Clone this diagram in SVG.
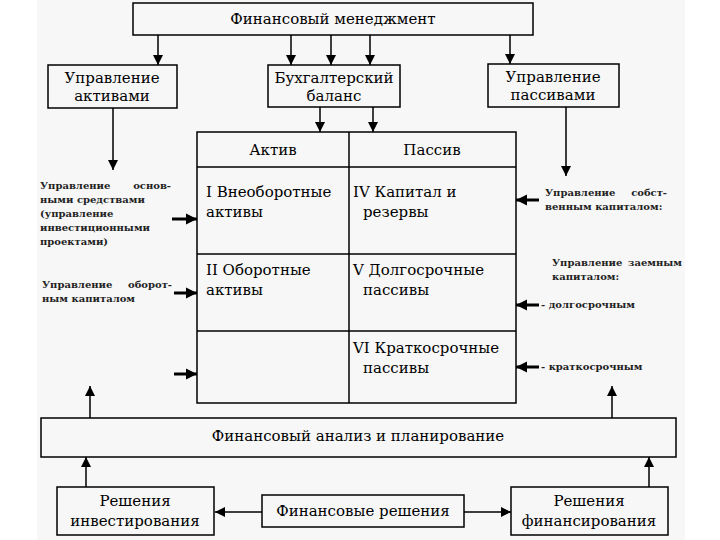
<svg xmlns="http://www.w3.org/2000/svg" width="720" height="540" viewBox="0 0 720 540" font-family="'DejaVu Serif', serif">
<defs>
<marker id="ah" viewBox="0 0 10 10" refX="10" refY="5" markerWidth="10" markerHeight="10" markerUnits="userSpaceOnUse" orient="auto">
<path d="M0,0 L10,5 L0,10 z" fill="#000"/>
</marker>
<marker id="ahb" viewBox="0 0 10 10" refX="10" refY="5" markerWidth="11" markerHeight="12" markerUnits="userSpaceOnUse" orient="auto">
<path d="M0,0 L10,5 L0,10 z" fill="#000"/>
</marker>
</defs>
<style>
.box{fill:#f7f7f7;stroke:#000;stroke-width:1.5}
.t{font-size:15px;fill:#000}
.s{font-size:10px;font-weight:bold;fill:#222}
.c{fill:none;stroke:#000;stroke-width:1.5;marker-end:url(#ah)}
.cb{fill:none;stroke:#000;stroke-width:3;marker-end:url(#ahb)}
.g{stroke:#000;stroke-width:1.5;fill:none}
</style>
<rect x="0" y="0" width="720" height="540" fill="#fff"/>
<rect x="37" y="0" width="648" height="540" fill="#f7f7f7"/>

<g id="connectors">
<line class="c" x1="158" y1="35" x2="158" y2="65"/>
<line class="c" x1="291" y1="35" x2="291" y2="65"/>
<line class="c" x1="331" y1="35" x2="331" y2="65"/>
<line class="c" x1="370" y1="35" x2="370" y2="65"/>
<line class="c" x1="510" y1="35" x2="510" y2="64"/>
<line class="c" x1="320" y1="107" x2="320" y2="132"/>
<line class="c" x1="373" y1="107" x2="373" y2="132"/>
<line class="c" x1="113" y1="108" x2="113" y2="170"/>
<line class="c" x1="566" y1="107" x2="566" y2="176"/>
<line class="cb" x1="172" y1="219" x2="197" y2="219"/>
<line class="cb" x1="174" y1="293" x2="197" y2="293"/>
<line class="cb" x1="174" y1="374" x2="197" y2="374"/>
<line class="cb" x1="539" y1="200" x2="516" y2="200"/>
<line class="cb" x1="539" y1="305" x2="516" y2="305"/>
<line class="cb" x1="539" y1="367" x2="516" y2="367"/>
<line class="c" x1="90" y1="418" x2="90" y2="386"/>
<line class="c" x1="612" y1="418" x2="612" y2="386"/>
<line class="c" x1="86" y1="487" x2="86" y2="457"/>
<line class="c" x1="649" y1="487" x2="649" y2="457"/>
<line class="c" x1="262" y1="512" x2="215" y2="512"/>
<line class="c" x1="464" y1="512" x2="511" y2="512"/>
</g>

<g id="fin-management">
<rect class="box" x="133" y="3" width="400" height="32"/>
<text class="t" x="333" y="24" text-anchor="middle">Финансовый менеджмент</text>
</g>
<g id="asset-management">
<rect class="box" x="48" y="65" width="129" height="43"/>
<text class="t" x="112" y="83" text-anchor="middle">Управление</text>
<text class="t" x="112" y="101" text-anchor="middle">активами</text>
</g>
<g id="balance-sheet">
<rect class="box" x="268" y="65" width="132" height="42"/>
<text class="t" x="334" y="83" text-anchor="middle">Бухгалтерский</text>
<text class="t" x="334" y="101" text-anchor="middle">баланс</text>
</g>
<g id="liability-management">
<rect class="box" x="488" y="64" width="131" height="43"/>
<text class="t" x="553" y="82" text-anchor="middle">Управление</text>
<text class="t" x="553" y="100" text-anchor="middle">пассивами</text>
</g>

<g id="balance-table">
<rect class="box" x="197" y="132" width="319" height="271"/>
<line class="g" x1="349" y1="132" x2="349" y2="403"/>
<line class="g" x1="197" y1="167" x2="516" y2="167"/>
<line class="g" x1="197" y1="254" x2="516" y2="254"/>
<line class="g" x1="197" y1="331" x2="516" y2="331"/>
<text class="t" x="273" y="155" text-anchor="middle">Актив</text>
<text class="t" x="432" y="155" text-anchor="middle">Пассив</text>
<text class="t" x="206" y="197">I Внеоборотные</text>
<text class="t" x="206" y="217">активы</text>
<text class="t" x="353" y="197">IV Капитал и</text>
<text class="t" x="363" y="217">резервы</text>
<text class="t" x="206" y="275">II Оборотные</text>
<text class="t" x="206" y="295">активы</text>
<text class="t" x="353" y="275">V Долгосрочные</text>
<text class="t" x="363" y="295">пассивы</text>
<text class="t" x="353" y="353">VI Краткосрочные</text>
<text class="t" x="363" y="373">пассивы</text>
</g>

<g id="fixed-assets-note">
<text class="s" x="40" y="189">Управление</text>
<text class="s" x="171" y="189" text-anchor="end">основ-</text>
<text class="s" x="40" y="203">ными средствами</text>
<text class="s" x="40" y="217">(управление</text>
<text class="s" x="40" y="231">инвестиционными</text>
<text class="s" x="40" y="245">проектами)</text>
</g>
<g id="working-capital-note">
<text class="s" x="42" y="288">Управление</text>
<text class="s" x="172" y="288" text-anchor="end">оборот-</text>
<text class="s" x="42" y="302">ным капиталом</text>
</g>
<g id="equity-note">
<text class="s" x="545" y="196">Управление</text>
<text class="s" x="667" y="196" text-anchor="end">собст-</text>
<text class="s" x="545" y="210">венным капиталом:</text>
</g>
<g id="debt-note">
<text class="s" x="552" y="266">Управление</text>
<text class="s" x="682" y="266" text-anchor="end">заемным</text>
<text class="s" x="552" y="280">капиталом:</text>
<text class="s" x="541" y="308">- долгосрочным</text>
<text class="s" x="541" y="370">- краткосрочным</text>
</g>

<g id="analysis-planning">
<rect class="box" x="41" y="418" width="635" height="39"/>
<text class="t" x="358" y="441" text-anchor="middle">Финансовый анализ и планирование</text>
</g>
<g id="investment-decisions">
<rect class="box" x="57" y="487" width="157" height="48"/>
<text class="t" x="135" y="506" text-anchor="middle">Решения</text>
<text class="t" x="135" y="526" text-anchor="middle">инвестирования</text>
</g>
<g id="financial-decisions">
<rect class="box" x="262" y="495" width="202" height="32"/>
<text class="t" x="363" y="516" text-anchor="middle">Финансовые решения</text>
</g>
<g id="financing-decisions">
<rect class="box" x="511" y="487" width="157" height="48"/>
<text class="t" x="589" y="506" text-anchor="middle">Решения</text>
<text class="t" x="589" y="526" text-anchor="middle">финансирования</text>
</g>
</svg>
